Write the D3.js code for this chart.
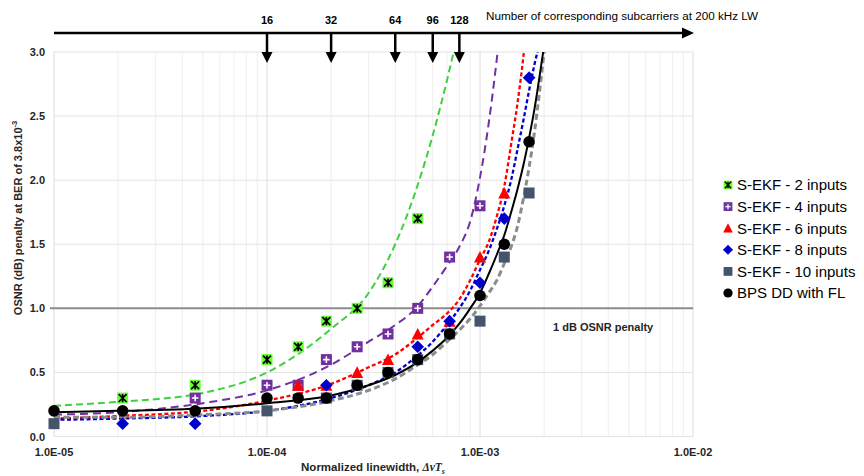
<!DOCTYPE html>
<html>
<head>
<meta charset="utf-8">
<script src="https://cdn.jsdelivr.net/npm/d3@7"></script>
<style>
body { margin: 0; background: #fff; }
text { font-family: "Liberation Sans", Arial, sans-serif; }
</style>
</head>
<body>
<svg id="chart" width="864" height="476"></svg>
<script>
// measured points (normalized linewidth vs OSNR penalty in dB)
var linewidths = [1.0e-5, 2.1e-5, 4.6e-5, 1.0e-4, 1.4e-4, 1.9e-4, 2.65e-4, 3.7e-4, 5.1e-4, 7.2e-4, 1.0e-3, 1.3e-3, 1.7e-3];
var ekf2  = [null, 0.3, 0.4, 0.6, 0.7, 0.9, 1.0, 1.2, 1.7, null, null, null, null];
var ekf4  = [null, null, 0.3, 0.4, 0.4, 0.6, 0.7, 0.8, 1.0, 1.4, 1.8, null, null];
var ekf6  = [null, null, null, null, 0.4, 0.4, 0.5, 0.6, 0.8, 0.9, 1.4, 1.9, null];
var ekf8  = [null, 0.1, 0.1, null, null, 0.4, null, null, 0.7, 0.9, 1.2, 1.7, 2.8];
var ekf10 = [0.1, null, null, 0.2, null, 0.3, 0.4, 0.5, 0.6, 0.8, 0.9, 1.4, 1.9];
var bps   = [0.2, 0.2, 0.2, 0.3, 0.3, 0.3, 0.4, 0.5, 0.6, 0.8, 1.1, 1.5, 2.3];

// trend curves
var trendX = [1e-5, 2e-5, 5e-5, 1e-4, 2e-4, 3e-4, 4e-4, 5e-4, 6e-4, 7e-4, 8e-4, 9e-4, 1e-3, 1.1e-3, 1.2e-3, 1.3e-3, 1.4e-3, 1.5e-3, 1.6e-3, 1.7e-3, 1.8e-3, 1.9e-3, 2e-3, 2.1e-3];
var trend2  = [0.24, 0.27, 0.34, 0.5, 0.84, 1.12, 1.5, 1.92, 2.35, 2.78, 3.2];
var trend4  = [0.17, 0.19, 0.26, 0.36, 0.56, 0.74, 0.87, 1.0, 1.17, 1.33, 1.48, 1.68, 2.02, 2.45, 2.95, 3.5];
var trend6  = [0.14, 0.16, 0.2, 0.28, 0.41, 0.54, 0.64, 0.76, 0.87, 0.96, 1.07, 1.22, 1.38, 1.52, 1.72, 1.95, 2.28, 2.6, 2.97, 3.4];
var trend8  = [0.13, 0.14, 0.16, 0.2, 0.3, 0.4, 0.5, 0.62, 0.74, 0.87, 1.0, 1.14, 1.3, 1.45, 1.62, 1.8, 2.0, 2.24, 2.47, 2.7, 2.9, 3.07, 3.3];
var trend10 = [0.15, 0.15, 0.17, 0.2, 0.28, 0.36, 0.45, 0.55, 0.64, 0.74, 0.83, 0.92, 1.02, 1.12, 1.22, 1.35, 1.48, 1.64, 1.86, 2.1, 2.37, 2.68, 3.0, 3.3];
var trendBps = [0.19, 0.2, 0.22, 0.26, 0.32, 0.4, 0.48, 0.57, 0.67, 0.77, 0.88, 1.0, 1.12, 1.27, 1.42, 1.57, 1.75, 1.93, 2.12, 2.33, 2.55, 2.8, 3.05, 3.3];

var seriesNames = ['S-EKF - 2 inputs', 'S-EKF - 4 inputs', 'S-EKF - 6 inputs', 'S-EKF - 8 inputs', 'S-EKF - 10 inputs', 'BPS DD with FL'];

// axes
var yTicks = [0, 0.5, 1.0, 1.5, 2.0, 2.5, 3.0];
var xTicks = [1e-5, 1e-4, 1e-3, 1e-2];
var xTickLabels = ['1.0E-05', '1.0E-04', '1.0E-03', '1.0E-02'];

// top scale: subcarrier count at 200 kHz LW
var subcarriers = [16, 32, 64, 96, 128];
var subcarrierLW = [1e-4, 2e-4, 4e-4, 6e-4, 8e-4];

var penaltyLine = 1.0;

var series = [
	{ pts: ekf2,  trend: trend2,  marker: 'star',    color: '#3fcf3f', dash: '7,4', width: 2 },
	{ pts: ekf4,  trend: trend4,  marker: 'plus',    color: '#7030a0', dash: '8,5', width: 2 },
	{ pts: ekf6,  trend: trend6,  marker: 'tri',     color: '#ff0000', dash: '4,2.5', width: 2.3 },
	{ pts: ekf8,  trend: trend8,  marker: 'diamond', color: '#0000cc', dash: '4,2.5', width: 2.3 },
	{ pts: ekf10, trend: trend10, marker: 'square',  color: '#8c8c8c', dash: '6,3.5', width: 3 },
	{ pts: bps,   trend: trendBps, marker: 'circle', color: '#000000', dash: null, width: 2 }
];

var svg = d3.select('#chart');

var x = d3.scaleLog().domain([1e-5, 1e-2]).range([54, 693]);
var y = d3.scaleLinear().domain([0, 3]).range([436.5, 52]);

// grid
var minor = [];
for (var d = 1e-5; d < 1e-2; d *= 10) {
	for (var k = 2; k < 10; k++) minor.push(d * k);
}
svg.append('g').selectAll('line').data(minor).join('line')
  .attr('x1', function(v) { return x(v); }).attr('x2', function(v) { return x(v); })
  .attr('y1', y(0)).attr('y2', y(3))
  .attr('stroke', '#eeeeee').attr('stroke-width', 1);
svg.append('g').selectAll('line').data(yTicks).join('line')
  .attr('x1', x(1e-5)).attr('x2', x(1e-2))
  .attr('y1', function(v) { return y(v); }).attr('y2', function(v) { return y(v); })
  .attr('stroke', '#e3e3e3').attr('stroke-width', 1);
svg.append('g').selectAll('line').data(xTicks).join('line')
  .attr('x1', function(v) { return x(v); }).attr('x2', function(v) { return x(v); })
  .attr('y1', y(0)).attr('y2', y(3))
  .attr('stroke', '#dcdcdc').attr('stroke-width', 1);

// tick labels
svg.append('g').selectAll('text').data(yTicks).join('text')
  .attr('x', 45).attr('y', function(v) { return y(v) + 4; })
  .attr('text-anchor', 'end')
  .style('font-size', '11px').style('font-weight', 'bold').style('fill', '#262626')
  .text(function(v) { return v.toFixed(1); });
svg.append('g').selectAll('text').data(xTicks).join('text')
  .attr('x', function(v) { return x(v); }).attr('y', 456)
  .attr('text-anchor', 'middle')
  .style('font-size', '11px').style('font-weight', 'bold').style('fill', '#262626')
  .text(function(v, i) { return xTickLabels[i]; });

// axis titles
var xt = svg.append('text')
  .attr('x', 373).attr('y', 471)
  .attr('text-anchor', 'middle')
  .style('font-size', '11.5px').style('font-weight', 'bold').style('fill', '#262626');
xt.append('tspan').text('Normalized linewidth, ');
xt.append('tspan').style('font-family', '"Liberation Serif", serif').style('font-style', 'italic').text('\u0394\u03bdT');
xt.append('tspan').attr('dy', 3).style('font-size', '8px').style('font-family', '"Liberation Serif", serif').style('font-style', 'italic').text('s');

var yt = svg.append('text')
  .attr('transform', 'translate(22,218) rotate(-90)')
  .attr('text-anchor', 'middle')
  .style('font-size', '11px').style('font-weight', 'bold').style('fill', '#262626');
yt.append('tspan').text('OSNR (dB) penalty at BER of 3.8x10');
yt.append('tspan').attr('dy', -5).style('font-size', '7.5px').text('-3');

// 1 dB reference line
svg.append('line')
  .attr('x1', 50).attr('x2', x(1e-2))
  .attr('y1', y(penaltyLine)).attr('y2', y(penaltyLine))
  .attr('stroke', '#8c8c8c').attr('stroke-width', 2);
svg.append('text')
  .attr('x', 553).attr('y', y(penaltyLine) + 23)
  .style('font-size', '11px').style('font-weight', 'bold').style('fill', '#262626')
  .text('1 dB OSNR penalty');

// trend lines, clipped to plot
svg.append('clipPath').attr('id', 'plot-clip')
  .append('rect')
  .attr('x', x(1e-5)).attr('y', y(3))
  .attr('width', x(1e-2) - x(1e-5)).attr('height', y(0) - y(3));

var line = d3.line()
  .defined(function(d) { return d[1] != null; })
  .x(function(d) { return x(d[0]); })
  .y(function(d) { return y(d[1]); })
  .curve(d3.curveMonotoneX);

var trends = svg.append('g').attr('clip-path', 'url(#plot-clip)');
series.forEach(function(s) {
	var pts = trendX.map(function(v, i) { return [v, i < s.trend.length ? s.trend[i] : null]; });
	trends.append('path')
	  .attr('d', line(pts))
	  .attr('fill', 'none')
	  .attr('stroke', s.color)
	  .attr('stroke-width', s.width)
	  .attr('stroke-dasharray', s.dash);
});

// markers
function marker(g, type, r) {
	if (type == 'star') {
		g.append('rect').attr('x', -r).attr('y', -r).attr('width', 2 * r).attr('height', 2 * r).attr('fill', '#66ff33');
		var a = r * 0.72;
		var p = 'M' + -a + ',' + -a + 'L' + a + ',' + a +
		        'M' + a + ',' + -a + 'L' + -a + ',' + a +
		        'M0,' + -a * 1.05 + 'L0,' + a * 1.05;
		g.append('path').attr('d', p).attr('stroke', '#000').attr('stroke-width', r / 3.3).attr('fill', 'none');
	} else if (type == 'plus') {
		g.append('rect').attr('x', -r).attr('y', -r).attr('width', 2 * r).attr('height', 2 * r).attr('fill', '#7030a0');
		var b = r * 0.6;
		g.append('path').attr('d', 'M' + -b + ',0L' + b + ',0M0,' + -b + 'L0,' + b)
		  .attr('stroke', '#fff').attr('stroke-width', r / 3.5);
	} else if (type == 'tri') {
		g.append('path').attr('d', 'M0,' + (-r * 1.1) + 'L' + (r * 1.1) + ',' + r + 'L' + (-r * 1.1) + ',' + r + 'Z').attr('fill', '#ff0000');
	} else if (type == 'diamond') {
		var c = r * 1.15;
		g.append('path').attr('d', 'M0,' + -c + 'L' + c + ',0L0,' + c + 'L' + -c + ',0Z').attr('fill', '#0000cc');
	} else if (type == 'square') {
		g.append('rect').attr('x', -r).attr('y', -r).attr('width', 2 * r).attr('height', 2 * r).attr('fill', '#44546a');
	} else {
		g.append('circle').attr('r', r * 1.05).attr('fill', '#000');
	}
}

var marks = svg.append('g');
series.forEach(function(s) {
	linewidths.forEach(function(v, i) {
		if (s.pts[i] == null) return;
		var g = marks.append('g').attr('transform', 'translate(' + x(v) + ',' + y(s.pts[i]) + ')');
		marker(g, s.marker, 5.5);
	});
});

// top axis with subcarrier arrows
var topAxis = svg.append('g');
topAxis.append('line')
  .attr('x1', x(1e-5)).attr('x2', 683)
  .attr('y1', 33).attr('y2', 33)
  .attr('stroke', '#000').attr('stroke-width', 2.5);
topAxis.append('path')
  .attr('d', 'M682,27.5L694,33L682,38.5Z').attr('fill', '#000');
topAxis.selectAll('.arrow').data(subcarrierLW).join('line')
  .attr('class', 'arrow')
  .attr('x1', function(v) { return x(v); }).attr('x2', function(v) { return x(v); })
  .attr('y1', 33).attr('y2', 54)
  .attr('stroke', '#000').attr('stroke-width', 2.5);
topAxis.selectAll('.head').data(subcarrierLW).join('path')
  .attr('class', 'head')
  .attr('d', function(v) { var px = x(v); return 'M' + (px - 5.5) + ',52L' + (px + 5.5) + ',52L' + px + ',63Z'; })
  .attr('fill', '#000');
topAxis.selectAll('.num').data(subcarriers).join('text')
  .attr('class', 'num')
  .attr('x', function(v, i) { return x(subcarrierLW[i]); }).attr('y', 24)
  .attr('text-anchor', 'middle')
  .style('font-size', '11px').style('font-weight', 'bold').style('fill', '#000')
  .text(function(v) { return v; });
topAxis.append('text')
  .attr('x', 486).attr('y', 19.5)
  .style('font-size', '11.7px').style('fill', '#000')
  .text('Number of corresponding subcarriers at 200 kHz LW');

// legend
var legend = svg.append('g');
series.forEach(function(s, i) {
	var cy = 185 + i * 21.6;
	var g = legend.append('g').attr('transform', 'translate(728,' + cy + ')');
	marker(g, s.marker, 4.4);
	legend.append('text')
	  .attr('x', 737).attr('y', cy + 5.3)
	  .style('font-size', '15px').style('fill', '#000')
	  .text(seriesNames[i]);
});
</script>
</body>
</html>
